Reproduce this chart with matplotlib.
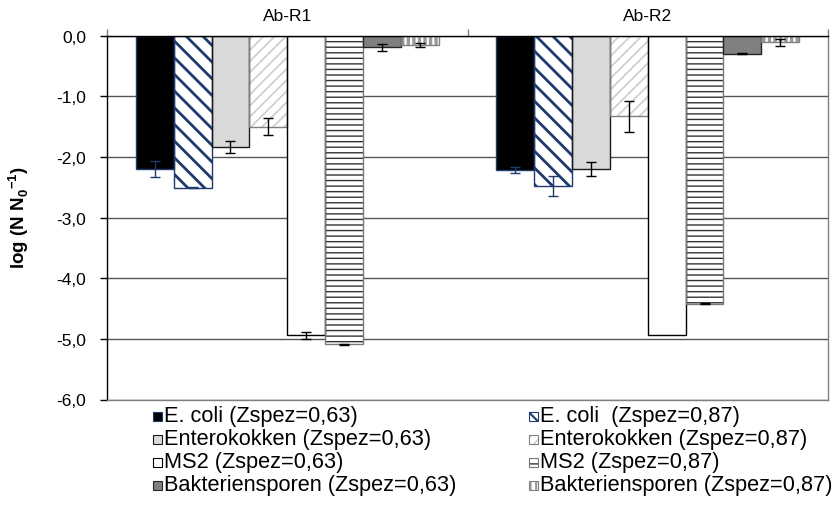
import numpy as np
import matplotlib.pyplot as plt
from matplotlib.patches import Rectangle

plt.rcParams['font.family'] = ['Liberation Sans', 'DejaVu Sans']
plt.rcParams['mathtext.fontset'] = 'custom'
plt.rcParams['mathtext.rm'] = 'Liberation Sans'
plt.rcParams['mathtext.bf'] = 'Liberation Sans:bold'

groups = ['Ab-R1', 'Ab-R2']
labels = ['E. coli (Zspez=0,63)', 'E. coli  (Zspez=0,87)',
          'Enterokokken (Zspez=0,63)', 'Enterokokken (Zspez=0,87)',
          'MS2 (Zspez=0,63)', 'MS2 (Zspez=0,87)',
          'Bakteriensporen (Zspez=0,63)', 'Bakteriensporen (Zspez=0,87)']

# log reduction per reactor, mean and std
ecoli_063 = [-2.20, -2.22]
ecoli_087 = [-2.51, -2.48]
entero_063 = [-1.84, -2.20]
entero_087 = [-1.50, -1.33]
ms2_063 = [-4.94, -4.94]
ms2_087 = [-5.09, -4.42]
sporen_063 = [-0.19, -0.30]
sporen_087 = [-0.15, -0.11]

ecoli_063_sd = [0.13, 0.05]
ecoli_087_sd = [0.01, 0.17]
entero_063_sd = [0.10, 0.12]
entero_087_sd = [0.14, 0.25]
ms2_063_sd = [0.06, np.nan]
ms2_087_sd = [0.01, 0.01]
sporen_063_sd = [0.06, 0.01]
sporen_087_sd = [0.035, 0.055]

series = [ecoli_063, ecoli_087, entero_063, entero_087,
          ms2_063, ms2_087, sporen_063, sporen_087]
errors = [ecoli_063_sd, ecoli_087_sd, entero_063_sd, entero_087_sd,
          ms2_063_sd, ms2_087_sd, sporen_063_sd, sporen_087_sd]

navy = '#1f3a6e'
styles = [
    dict(face='black', hatch=None, hc=None, hlw=0, edge=navy, err=navy),
    dict(face='white', hatch='\\\\', hc=navy, hlw=2.0, edge=navy, err=navy),
    dict(face='#d9d9d9', hatch=None, hc=None, hlw=0, edge='#1a1a1a', err='black'),
    dict(face='white', hatch='///', hc='#d0d0d0', hlw=1.3, edge='#808080', err='black'),
    dict(face='white', hatch=None, hc=None, hlw=0, edge='black', err='black'),
    dict(face='white', hatch='---', hc='#333333', hlw=1.0, edge='#7a7a7a', err='black'),
    dict(face='#808080', hatch=None, hc=None, hlw=0, edge='#262626', err='black'),
    dict(face='white', hatch='|||', hc='#9a9a9a', hlw=2.4, edge='#808080', err='black'),
]


def hatched(patch, st):
    if st['hatch']:
        patch.set_hatch(st['hatch'])
        if hasattr(patch, 'set_hatch_linewidth'):
            patch.set_hatch_linewidth(st['hlw'])


W, H = 834, 510
fig = plt.figure(figsize=(W / 100, H / 100), dpi=100)
ax = fig.add_axes([107 / W, 1 - 400.5 / H, (828 - 107) / W, (400.5 - 36.7) / H])

x = np.arange(len(groups))
width = 0.105

for i, (vals, sd, st) in enumerate(zip(series, errors, styles)):
    pos = x + (i - 3.5) * width
    ax.bar(pos, vals, width, color=st['face'], linewidth=0, zorder=2)
    if st['hatch']:
        with plt.rc_context({'hatch.linewidth': st['hlw']}):
            hb = ax.bar(pos, vals, width, facecolor='none', edgecolor=st['hc'],
                        linewidth=0, zorder=2.1)
        for p in hb:
            hatched(p, st)
    ax.bar(pos, vals, width, fill=False, edgecolor=st['edge'], linewidth=1.0,
           zorder=2.2)
    ax.errorbar(pos, vals, yerr=sd, fmt='none', ecolor=st['err'],
                elinewidth=1, capsize=3.5, capthick=1, zorder=3)

ax.set_ylim(-6, 0)
ax.set_xlim(-0.5, 1.5)
yt = np.arange(0, -7, -1)
ax.set_yticks(yt)
ax.set_yticklabels([f'{v:.1f}'.replace('.', ',') for v in yt], fontsize=12.5)
ax.tick_params(axis='y', direction='out', length=5, width=1, pad=10)
ax.yaxis.grid(True, color='#555555', linewidth=1)
ax.set_axisbelow(True)

ax.xaxis.set_ticks_position('top')
ax.set_xticks([-0.5, 0.5, 1.5])
ax.set_xticklabels([])
ax.set_xticks(x, minor=True)
ax.set_xticklabels(groups, minor=True, fontsize=12.5)
ax.tick_params(axis='x', which='major', direction='out', length=5, width=1,
               color='#808080')
ax.tick_params(axis='x', which='minor', length=0, pad=9, labeltop=True,
               labelbottom=False)

ax.spines['left'].set_color('black')
ax.spines['top'].set_color('black')
ax.spines['right'].set_color('#808080')
ax.spines['bottom'].set_color('#808080')
for s in ax.spines.values():
    s.set_linewidth(1)

fig.text(19 / W, 1 - 218 / H, r'log (N N$_{\mathbf{0}}{}^{\mathbf{-1}}$)',
         fontsize=13.5, fontweight='bold', rotation=90, ha='center',
         va='center')

# legend: two columns, left column Zspez=0,63, right column Zspez=0,87
col_x = [153, 529]
row_y = [417, 440, 463, 486]
sq = 9
for i, (lab, st) in enumerate(zip(labels, styles)):
    cx = col_x[i % 2]
    cy = row_y[i // 2]
    xy = (cx / W, 1 - (cy + sq / 2) / H)
    hl = min(st['hlw'], 1.5)
    with plt.rc_context({'hatch.linewidth': hl}):
        r = Rectangle(xy, sq / W, sq / H, transform=fig.transFigure,
                      facecolor=st['face'],
                      edgecolor=st['hc'] if st['hatch'] else 'none',
                      linewidth=0)
    hatched(r, dict(st, hlw=hl))
    fig.patches.append(r)
    fig.patches.append(Rectangle(xy, sq / W, sq / H, transform=fig.transFigure,
                                 fill=False, edgecolor=st['edge'],
                                 linewidth=0.8))
    fig.text((cx + sq + 2) / W, 1 - cy / H, lab, fontsize=15.7, ha='left',
             va='center')

fig.savefig('out.png', dpi=100)
